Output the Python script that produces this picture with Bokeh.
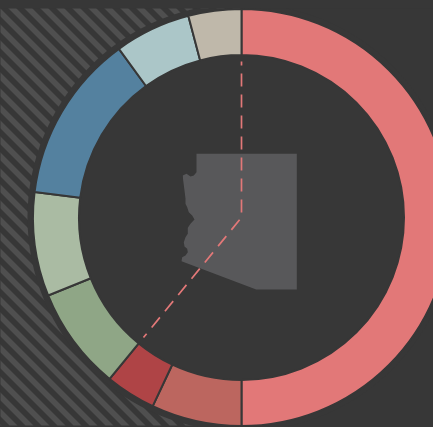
import numpy as np
from bokeh.plotting import figure
from bokeh.models import Range1d
from bokeh.embed import file_html
from bokeh.resources import INLINE

BG = "#373737"
shares = [50, 7, 3.9, 8, 8.05, 13.05, 5.9, 4.1]
colors = ["#e27878", "#bc665f", "#af4446", "#8fa686", "#aabba3", "#54819f", "#abc6c8", "#bfb8aa"]
marker_share = 60.9

AZ_X = [-45, 55.3, 55.3, 14.7, -60, -59.3, -56, -53.7, -54.3, -57, -57.7, -56, -53.7, -53.7, -51, -47,
        -49.3, -52.7, -54.3, -56, -56, -57, -58.3, -58.7, -55, -51, -47.7, -45]
AZ_Y = [63.7, 63.7, -72, -72, -43.7, -39.7, -38, -34.7, -31.3, -29, -24.7, -19.7, -16.3, -10.3, -6.3, -2,
        2, 5.3, 10.3, 13.7, 18.7, 27, 37, 42, 43.7, 41, 42, 45.3]

W, H = 433, 419
p = figure(width=W, height=H, output_backend="svg", toolbar_location=None,
           x_range=Range1d(-241, 192), y_range=Range1d(-210, 209),
           min_border=0, outline_line_color=None, background_fill_color=BG,
           border_fill_color=BG)
p.axis.visible = False
p.grid.visible = False

# diagonal stripe texture on the left side; the frame clips them at the top and left
xs, ys = [], []
for a in range(-448, 240, 16):
    top = -20
    bot0, bot1 = min(425, 241 - a), min(425, 241 - (a + 8))
    px = [a + top, a + bot0, a + 8 + bot1, a + 8 + top]
    py = [top, bot0, bot1, top]
    xs.append([v - 241 for v in px])
    ys.append([217 - v for v in py])
p.patches(xs, ys, fill_color="#4f4f4f", line_color=None)

p.circle(x=[0], y=[0], radius=214, fill_color=BG, line_color=None)

cum = np.cumsum([0] + shares) / 100.0
start = np.pi / 2 - 2 * np.pi * cum[:-1]
end = np.pi / 2 - 2 * np.pi * cum[1:]
p.annular_wedge(x=0, y=0, inner_radius=162.5, outer_radius=208.5, start_angle=start, end_angle=end,
                direction="clock", fill_color=colors, line_color=BG, line_width=2)

p.patch(AZ_X, AZ_Y, fill_color="#58585a", line_color=None)

r = 156
ang = np.pi / 2 - 2 * np.pi * marker_share / 100
p.line([0, 0, (r - 1) * np.cos(ang)], [r, 0, (r - 1) * np.sin(ang)], line_color="#e27878", line_width=1.7,
       line_dash="13 8", line_dash_offset=9)

html = file_html(p, INLINE)
html = html.replace("<body>", f'<body style="margin:8px 0 0 0;background:{BG};overflow:hidden">')
open("out.html", "w").write(html)
